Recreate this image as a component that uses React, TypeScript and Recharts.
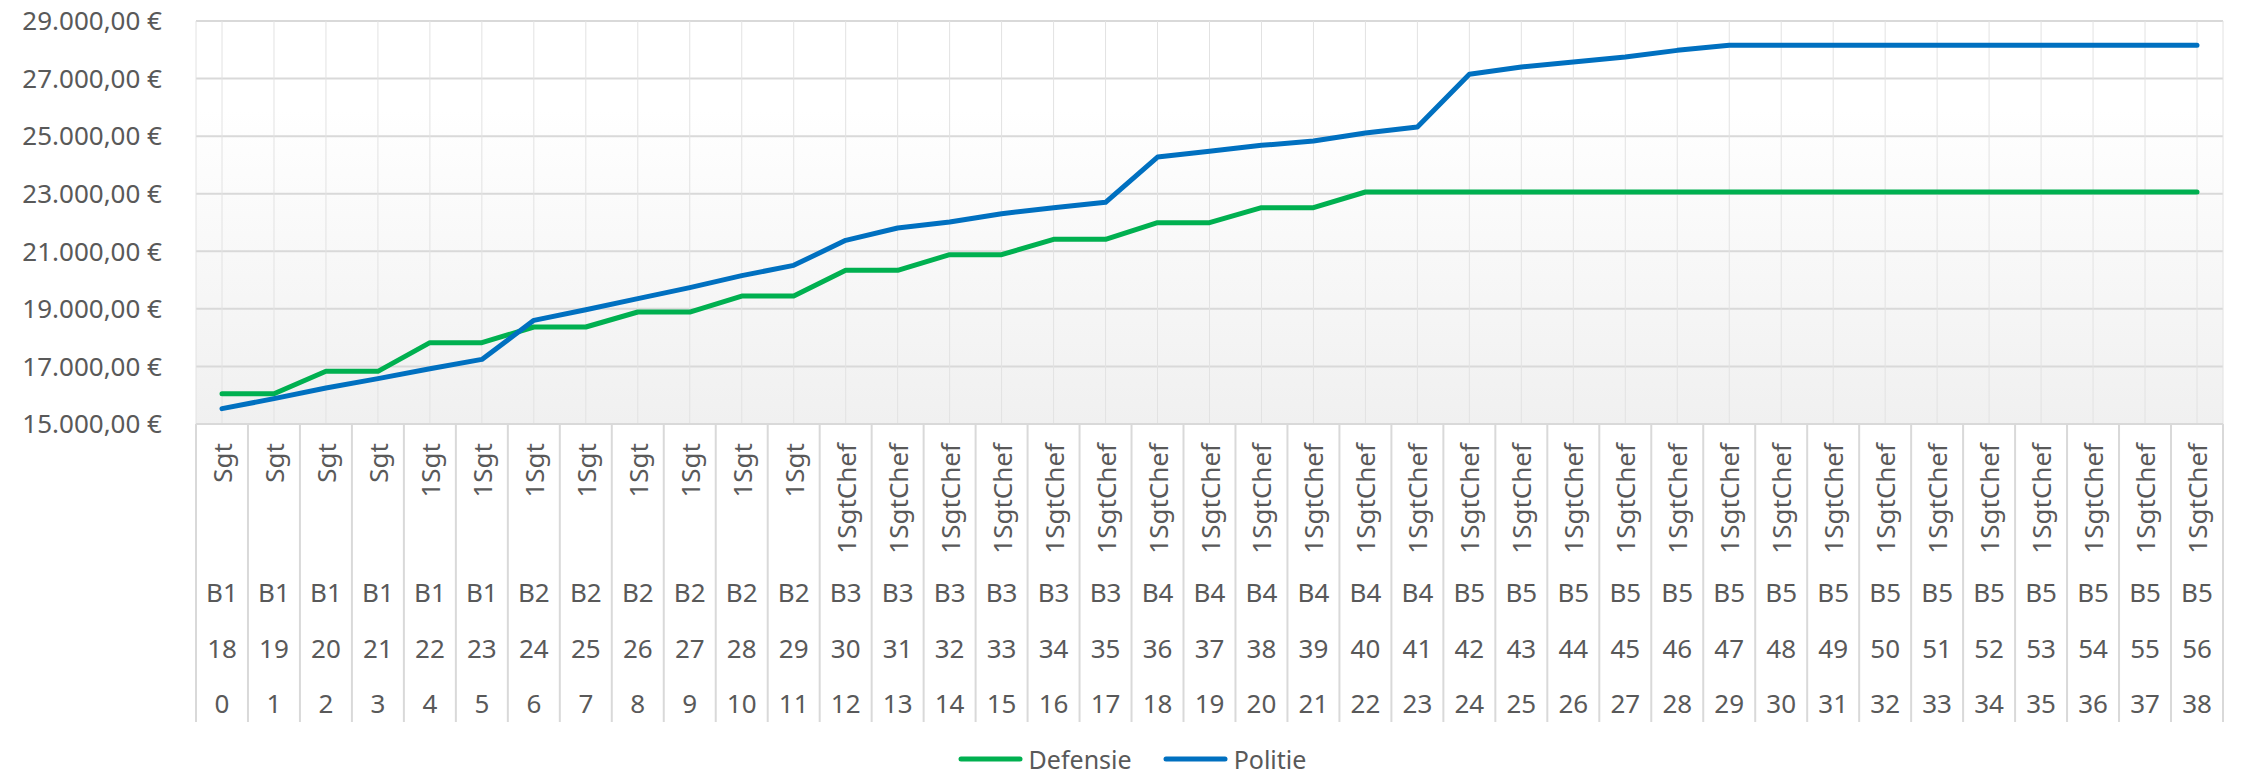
import React from "react";
import { LineChart, Line, XAxis, YAxis, CartesianGrid, Legend } from "recharts";

// category levels
const years = [0, 1, 2, 3, 4, 5, 6, 7, 8, 9, 10, 11, 12, 13, 14, 15, 16, 17, 18, 19, 20, 21, 22, 23, 24, 25, 26, 27, 28, 29, 30, 31, 32, 33, 34, 35, 36, 37, 38];
const ages = [18, 19, 20, 21, 22, 23, 24, 25, 26, 27, 28, 29, 30, 31, 32, 33, 34, 35, 36, 37, 38, 39, 40, 41, 42, 43, 44, 45, 46, 47, 48, 49, 50, 51, 52, 53, 54, 55, 56];
const scales = [
  "B1", "B1", "B1", "B1", "B1", "B1",
  "B2", "B2", "B2", "B2", "B2", "B2",
  "B3", "B3", "B3", "B3", "B3", "B3",
  "B4", "B4", "B4", "B4", "B4", "B4",
  "B5", "B5", "B5", "B5", "B5", "B5", "B5", "B5", "B5", "B5", "B5", "B5", "B5", "B5", "B5",
];
const ranks = [
  "Sgt", "Sgt", "Sgt", "Sgt",
  "1Sgt", "1Sgt", "1Sgt", "1Sgt", "1Sgt", "1Sgt", "1Sgt", "1Sgt",
  "1SgtChef", "1SgtChef", "1SgtChef", "1SgtChef", "1SgtChef", "1SgtChef", "1SgtChef", "1SgtChef", "1SgtChef",
  "1SgtChef", "1SgtChef", "1SgtChef", "1SgtChef", "1SgtChef", "1SgtChef", "1SgtChef", "1SgtChef", "1SgtChef",
  "1SgtChef", "1SgtChef", "1SgtChef", "1SgtChef", "1SgtChef", "1SgtChef", "1SgtChef", "1SgtChef", "1SgtChef",
];

// yearly salary (EUR)
const defensie = [
  16050, 16050, 16830, 16830, 17825, 17825, 18370, 18370, 18890, 18890,
  19446, 19446, 20338, 20338, 20882, 20882, 21415, 21415, 21994, 21994,
  22515, 22515, 23059, 23059, 23059, 23059, 23059, 23059, 23059, 23059,
  23059, 23059, 23059, 23059, 23059, 23059, 23059, 23059, 23059,
];
const politie = [
  15533, 15880, 16250, 16575, 16920, 17245, 18600, 18970, 19354, 19736,
  20153, 20512, 21380, 21809, 22017, 22307, 22515, 22700, 24275, 24472,
  24680, 24830, 25109, 25317, 27147, 27400, 27575, 27750, 27980, 28154,
  28154, 28154, 28154, 28154, 28154, 28154, 28154, 28154, 28154,
];

const yTicks = [15000, 17000, 19000, 21000, 23000, 25000, 27000, 29000];

const data = years.map((y, i) => ({
  years: y,
  age: ages[i],
  scale: scales[i],
  rank: ranks[i],
  defensie: defensie[i],
  politie: politie[i],
}));

const FONT = '"Noto Sans", sans-serif';
const TEXT = "#595959";
const GRID = "#d9d9d9";
const HALF_BAND = 26;

const euro = (v: number) =>
  `${Math.floor(v / 1000)}.${String(v % 1000).padStart(3, "0")},00 €`;

function CategoryTick(props: any) {
  const { x, y, payload } = props;
  const i = payload.index;
  const d = data[i];
  const last = i === data.length - 1;
  const txt = { fontFamily: FONT, fontSize: 26, fill: TEXT } as const;
  return (
    <g>
      <line x1={x - HALF_BAND} y1={y} x2={x - HALF_BAND} y2={y + 298} stroke={GRID} strokeWidth={2} />
      {last && (
        <line x1={x + HALF_BAND} y1={y} x2={x + HALF_BAND} y2={y + 298} stroke={GRID} strokeWidth={2} />
      )}
      <text
        {...txt}
        x={x}
        y={y + 19}
        transform={`rotate(-90, ${x}, ${y + 19})`}
        textAnchor="end"
        dominantBaseline="central"
      >
        {d.rank}
      </text>
      <text {...txt} x={x} y={y + 168} textAnchor="middle" dominantBaseline="central">{d.scale}</text>
      <text {...txt} x={x} y={y + 224} textAnchor="middle" dominantBaseline="central">{d.age}</text>
      <text {...txt} x={x} y={y + 279} textAnchor="middle" dominantBaseline="central">{d.years}</text>
    </g>
  );
}

function LegendRow(props: any) {
  const items = props.payload || [];
  return (
    <div
      style={{
        display: "flex",
        justifyContent: "center",
        alignItems: "center",
        height: 34,
        paddingLeft: 20,
        fontFamily: FONT,
        fontSize: 25,
        color: TEXT,
      }}
    >
      {items.map((it: any, k: number) => (
        <div key={it.value} style={{ display: "flex", alignItems: "center", marginLeft: k ? 31 : 0 }}>
          <svg width={65} height={10}>
            <line x1={3} y1={5} x2={62} y2={5} stroke={it.color} strokeWidth={5} strokeLinecap="round" />
          </svg>
          <span style={{ marginLeft: 6, lineHeight: "34px" }}>{it.value}</span>
        </div>
      ))}
    </div>
  );
}

export default function App() {
  return (
    <div style={{ position: "absolute", left: 0, top: 0 }}>
      <LineChart
        width={2244}
        height={776}
        data={data}
        margin={{ top: 21, right: 21, bottom: 0, left: 0 }}
        style={{ fontFamily: FONT }}
      >
        <defs>
          <linearGradient id="plotBg" x1="0" y1="0" x2="0" y2="1">
            <stop offset="0%" stopColor="#ffffff" />
            <stop offset="22%" stopColor="#ffffff" />
            <stop offset="100%" stopColor="#f0f0f0" />
          </linearGradient>
        </defs>
        <CartesianGrid vertical={false} stroke={GRID} strokeWidth={2} fill="url(#plotBg)" fillOpacity={1} />
        <CartesianGrid horizontal={false} stroke="#e2e2e2" strokeWidth={1} />
        <XAxis
          dataKey="years"
          interval={0}
          padding={{ left: HALF_BAND, right: HALF_BAND }}
          height={318}
          tickLine={false}
          tickSize={0}
          tickMargin={0}
          axisLine={{ stroke: GRID, strokeWidth: 2 }}
          tick={<CategoryTick />}
        />
        <YAxis
          domain={[15000, 29000]}
          ticks={yTicks}
          tickFormatter={euro}
          axisLine={false}
          tickLine={false}
          tickSize={0}
          tickMargin={34}
          width={196}
          tick={{ fontSize: 26, fill: TEXT, fontFamily: FONT }}
        />
        <Legend verticalAlign="bottom" content={<LegendRow />} wrapperStyle={{ left: 0, width: 2244 }} />
        <Line
          type="linear"
          dataKey="defensie"
          name="Defensie"
          stroke="#00b050"
          strokeWidth={5}
          strokeLinecap="round"
          strokeLinejoin="round"
          dot={false}
          activeDot={false}
          isAnimationActive={false}
        />
        <Line
          type="linear"
          dataKey="politie"
          name="Politie"
          stroke="#0070c0"
          strokeWidth={5}
          strokeLinecap="round"
          strokeLinejoin="round"
          dot={false}
          activeDot={false}
          isAnimationActive={false}
        />
      </LineChart>
    </div>
  );
}
